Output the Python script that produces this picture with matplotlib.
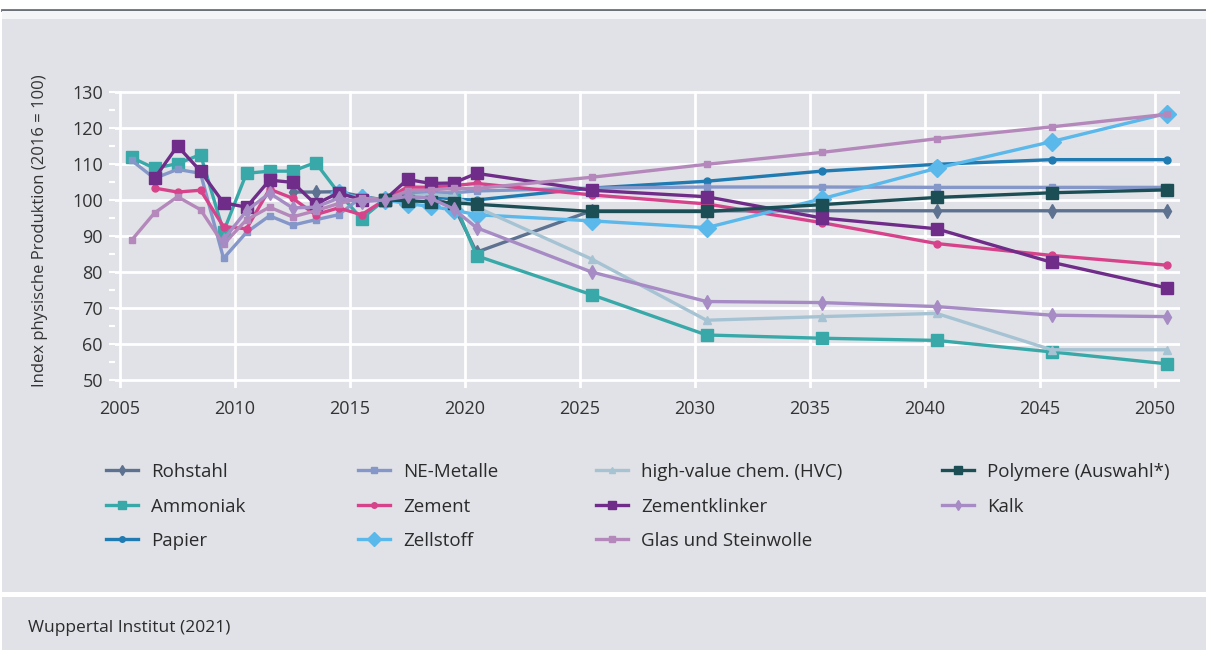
import matplotlib
matplotlib.use("Agg")
import matplotlib.pyplot as plt
from matplotlib.patches import Rectangle
from matplotlib.lines import Line2D
from matplotlib.ticker import MultipleLocator
import numpy as np

plt.rcParams['font.family'] = ['Open Sans', 'DejaVu Sans']

nan = np.nan
years_hist = list(range(2005, 2021))
years_proj = [2025, 2030, 2035, 2040, 2045, 2050]

labels = ["Rohstahl", "Ammoniak", "Papier",
          "NE-Metalle", "Zement", "Zellstoff",
          "high-value chem. (HVC)", "Zementklinker", "Glas und Steinwolle",
          "Polymere (Auswahl*)", "Kalk"]

# Index 2016 = 100, jährlich 2005-2020, danach Szenario in 5-Jahres-Schritten
rohstahl = [nan, nan, nan, nan, nan, nan, nan, 102.2, 102.2, 102.3, 101.0, 100.0, 101.2, 100.8, 98.5, 85.5,
            97.0, 97.0, 97.0, 97.0, 97.0, 97.0]
ammoniak = [111.8, 108.8, 110.1, 112.6, 91.2, 107.4, 108.0, 108.0, 110.4, 102.0, 94.8, 100.0, 101.5, 102.0, 100.0, 84.5,
            73.7, 62.5, 61.6, 61.0, 57.8, 54.5]
papier = [nan, nan, nan, nan, nan, nan, nan, nan, nan, nan, nan, 100.0, 100.8, 101.0, 100.2, 100.0,
          103.3, 105.2, 108.0, 109.9, 111.2, 111.2]
ne_metalle = [111.0, 106.0, 108.5, 107.4, 83.8, 91.0, 95.6, 93.0, 94.5, 95.9, 100.8, 100.0, 101.5, 102.0, 102.0, 102.5,
              103.3, 103.6, 103.6, 103.5, 103.5, 103.5]
zement = [nan, 103.3, 102.2, 102.7, 92.6, 92.0, 103.0, 100.5, 95.9, 97.8, 95.9, 100.0, 103.6, 103.5, 104.0, 104.6,
          101.4, 98.9, 93.7, 87.9, 84.6, 81.9]
zellstoff = [nan, nan, nan, nan, nan, nan, nan, nan, nan, 102.0, 100.5, 100.0, 99.0, 98.2, 97.2, 95.9,
             94.2, 92.3, 100.3, 108.8, 116.2, 124.0]
hvc = [nan, nan, nan, nan, nan, nan, nan, nan, nan, nan, nan, 100.0, 101.0, 101.5, 101.0, 98.0,
       83.6, 66.6, 67.6, 68.5, 58.4, 58.4]
zementklinker = [nan, 106.0, 115.0, 108.0, 99.2, 98.0, 105.5, 104.9, 98.8, 102.0, 100.0, 100.0, 105.7, 104.6, 104.7, 107.4,
                 102.7, 100.9, 95.0, 92.0, 82.7, 75.6]
glas = [88.8, 96.4, 100.9, 97.3, 87.7, 94.5, 98.0, 95.3, 97.0, 99.0, 100.5, 100.0, 102.5, 102.8, 103.2, 103.2,
        106.3, 109.9, 113.2, 117.0, 120.3, 123.8]
polymere = [nan, nan, nan, nan, nan, nan, nan, nan, nan, nan, nan, 100.0, 99.8, 99.5, 99.2, 98.8,
            96.8, 96.8, 98.7, 100.7, 102.0, 102.8]
kalk = [nan, nan, nan, nan, 89.0, 97.0, 101.9, 97.8, 98.0, 100.5, 99.5, 100.0, 101.0, 100.5, 97.5, 92.3,
        80.0, 71.8, 71.5, 70.4, 68.0, 67.6]

series = [rohstahl, ammoniak, papier, ne_metalle, zement, zellstoff,
          hvc, zementklinker, glas, polymere, kalk]
colors = ['#5d7290', '#38a9a8', '#1f7bb2', '#8597c8', '#d6438a', '#5ab8ea',
          '#a6c3d3', '#6f2c88', '#b488ba', '#1b4f55', '#a68bc4']
markers = ['d', 's', 'o', 's', 'o', 'D', '^', 's', 's', 's', 'd']
msizes = [7, 8, 5, 5, 5, 9, 6, 8, 5, 8, 7]

panel = '#e1e2e7'

fig = plt.figure(figsize=(12.06, 6.5), dpi=100)
fig.patch.set_facecolor('white')
W, H = 1206, 650
fig.add_artist(Line2D([2 / W, 1], [1 - 10 / H] * 2, color='#6b7079', lw=2, zorder=-10))
fig.add_artist(Rectangle((2 / W, 1 - 19 / H), 1, 8 / H, color='#f4f5f7', lw=0, zorder=-10))
fig.add_artist(Rectangle((2 / W, 1 - 592 / H), 1, (592 - 19) / H, color=panel, lw=0, zorder=-10))
fig.add_artist(Rectangle((2 / W, 0), 1, (650 - 597) / H, color=panel, lw=0, zorder=-10))
fig.text(28 / W, 1 - 628 / H, "Wuppertal Institut (2021)", fontsize=12.5, color='#2b2b2b', va='center')

ax = fig.add_axes([0.0957, 0.4032, 0.883, 0.4570])
ax.set_facecolor(panel)
for s in ax.spines.values():
    s.set_visible(False)

x = np.array(years_hist + years_proj) + 0.5
handles = []
for vals, lab, c, m, ms in zip(series, labels, colors, markers, msizes):
    h, = ax.plot(x, vals, color=c, lw=2.4, marker=m, markersize=ms, label=lab)
    handles.append(h)

ax.set_xlim(2004.8, 2051.1)
ax.set_ylim(47.8, 130.3)
ax.set_xticks(range(2005, 2051, 5))
ax.set_yticks(range(50, 131, 10))
ax.yaxis.set_minor_locator(MultipleLocator(5))
ax.grid(True, which='major', color='white', lw=2)
ax.set_axisbelow(True)
ax.tick_params(axis='y', which='both', color='white', length=4, width=1.5, labelsize=13,
               labelcolor='#333333', pad=5)
ax.tick_params(axis='x', length=0, labelsize=13, labelcolor='#333333', pad=9)
ax.set_ylabel("Index physische Produktion (2016 = 100)", fontsize=12, color='#333333')
ax.yaxis.set_label_coords(-0.063, 0.53)

# Legende: eine Spalte je Legende, damit die Spalten wie im Original stehen
col_x = [106, 358, 596, 942]
col_items = [(0, 3), (3, 6), (6, 9), (9, 11)]
for cx, (a, b) in zip(col_x, col_items):
    leg = fig.legend(handles=handles[a:b], labels=labels[a:b], ncol=1, loc='upper left',
                     bbox_to_anchor=(cx / W, 1 - 463 / H), frameon=False, fontsize=13.5,
                     handlelength=1.7, handletextpad=0.7, labelspacing=0.88,
                     borderpad=0, borderaxespad=0, markerscale=0.8, labelcolor='#2b2b2b')

fig.savefig("out.png", dpi=100, facecolor=fig.get_facecolor())
